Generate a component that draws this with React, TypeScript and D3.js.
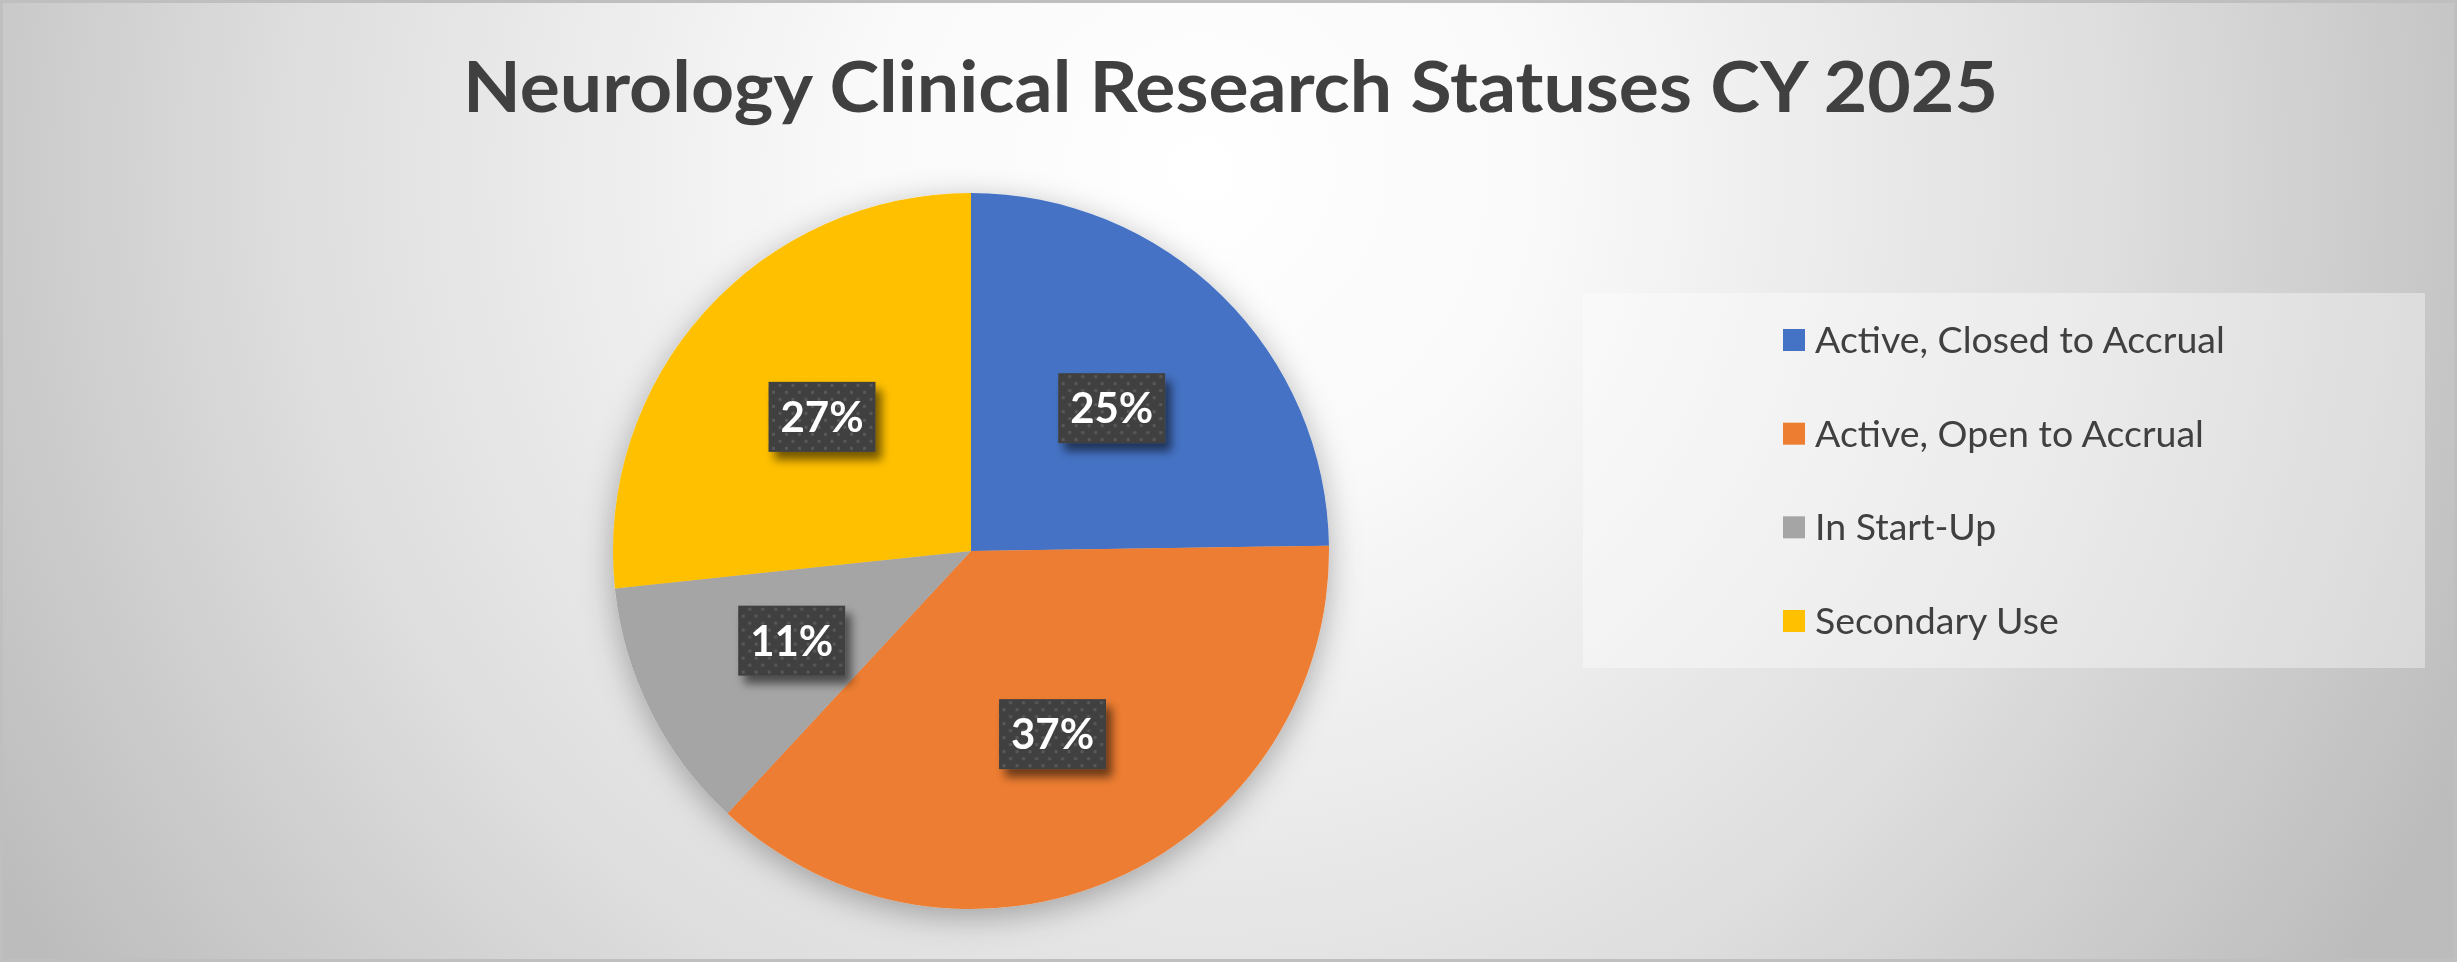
import React, { useEffect, useRef } from 'react';
import * as d3 from 'd3';

// Neurology study counts by status (CY 2025)
const statusNames = [
  'Active, Closed to Accrual',
  'Active, Open to Accrual',
  'In Start-Up',
  'Secondary Use',
];
const studyCounts = [26, 39, 12, 28];
const sliceColors = ['#4472C4', '#ED7D31', '#A5A5A5', '#FFC000'];
const chartTitle = 'Neurology Clinical Research Statuses CY 2025';

const WIDTH = 2457;
const HEIGHT = 962;

const App: React.FC = () => {
  const svgRef = useRef<SVGSVGElement>(null);

  useEffect(() => {
    if (!svgRef.current) return;
    const svg = d3.select(svgRef.current);
    svg.selectAll('*').remove();
    svg.attr('width', WIDTH).attr('height', HEIGHT);

    const defs = svg.append('defs');

    // background radial gradient
    const bg = defs
      .append('radialGradient')
      .attr('id', 'bgGrad')
      .attr('gradientUnits', 'userSpaceOnUse')
      .attr('cx', 1200)
      .attr('cy', 170)
      .attr('r', 1400);
    bg.append('stop').attr('offset', '0').attr('stop-color', '#ffffff');
    bg.append('stop').attr('offset', '0.25').attr('stop-color', '#f9f9f9');
    bg.append('stop').attr('offset', '0.65').attr('stop-color', '#dedede');
    bg.append('stop').attr('offset', '1').attr('stop-color', '#bcbcbc');

    // soft shadow under the pie
    const pieShadow = defs
      .append('filter')
      .attr('id', 'pieShadow')
      .attr('x', '-30%')
      .attr('y', '-30%')
      .attr('width', '160%')
      .attr('height', '160%');
    pieShadow
      .append('feDropShadow')
      .attr('dx', 0)
      .attr('dy', 8)
      .attr('stdDeviation', 16)
      .attr('flood-color', '#000')
      .attr('flood-opacity', 0.3);

    // label box shadow
    const boxShadow = defs
      .append('filter')
      .attr('id', 'boxShadow')
      .attr('x', '-30%')
      .attr('y', '-30%')
      .attr('width', '160%')
      .attr('height', '160%');
    boxShadow
      .append('feDropShadow')
      .attr('dx', 6)
      .attr('dy', 8)
      .attr('stdDeviation', 5)
      .attr('flood-color', '#000')
      .attr('flood-opacity', 0.55);

    // dotted fill for the label boxes
    const dots = defs
      .append('pattern')
      .attr('id', 'dots')
      .attr('patternUnits', 'userSpaceOnUse')
      .attr('width', 13)
      .attr('height', 14);
    dots.append('rect').attr('width', 13).attr('height', 14).attr('fill', '#404040');
    dots.append('rect').attr('x', 2).attr('y', 2).attr('width', 3).attr('height', 3).attr('fill', '#585858');
    dots.append('rect').attr('x', 8.5).attr('y', 9).attr('width', 3).attr('height', 3).attr('fill', '#585858');

    // background + border
    svg
      .append('rect')
      .attr('x', 1.5)
      .attr('y', 1.5)
      .attr('width', WIDTH - 3)
      .attr('height', HEIGHT - 3)
      .attr('fill', 'url(#bgGrad)')
      .attr('stroke', '#bfbfbf')
      .attr('stroke-width', 3);

    // title
    svg
      .append('text')
      .attr('x', 463)
      .attr('y', 112)
      .attr('textLength', 1535)
      .attr('lengthAdjust', 'spacingAndGlyphs')
      .style('font-family', 'Lato, "Open Sans", sans-serif')
      .style('font-weight', 700)
      .style('font-size', '70px')
      .style('fill', '#404040')
      .text(chartTitle);

    // pie
    const cx = 971;
    const cy = 551;
    const radius = 358;
    const total = d3.sum(studyCounts);
    const pct = d3.format('.0%');

    const pie = d3
      .pie<number>()
      .sort(null)
      .value(d => d);
    const slices = pie(studyCounts);

    const arc = d3.arc<d3.PieArcDatum<number>>().innerRadius(0).outerRadius(radius);
    const labelArc = d3
      .arc<d3.PieArcDatum<number>>()
      .innerRadius(radius * 0.56)
      .outerRadius(radius * 0.56);

    const g = svg.append('g').attr('transform', `translate(${cx},${cy})`);

    g.append('g')
      .attr('filter', 'url(#pieShadow)')
      .selectAll('path')
      .data(slices)
      .enter()
      .append('path')
      .attr('d', arc)
      .attr('fill', (d, i) => sliceColors[i]);

    const boxW = 107;
    const boxH = 70;
    const labels = g
      .selectAll('g.lbl')
      .data(slices)
      .enter()
      .append('g')
      .attr('class', 'lbl')
      .attr('transform', d => {
        const [x, y] = labelArc.centroid(d);
        return `translate(${x},${y})`;
      });

    labels
      .append('rect')
      .attr('x', -boxW / 2)
      .attr('y', -boxH / 2)
      .attr('width', boxW)
      .attr('height', boxH)
      .attr('fill', 'url(#dots)')
      .attr('filter', 'url(#boxShadow)');

    labels
      .append('text')
      .attr('text-anchor', 'middle')
      .attr('y', 15)
      .style('font-family', 'Lato, "Open Sans", sans-serif')
      .style('font-weight', 700)
      .style('font-size', '42px')
      .style('fill', '#ffffff')
      .text(d => pct(d.data / total));

    // legend
    svg
      .append('rect')
      .attr('x', 1583)
      .attr('y', 293)
      .attr('width', 842)
      .attr('height', 375)
      .attr('fill', '#ffffff')
      .attr('fill-opacity', 0.38);

    const legendY = d3.scalePoint<string>().domain(statusNames).range([340, 621]);

    const items = svg
      .selectAll('g.legend')
      .data(statusNames)
      .enter()
      .append('g')
      .attr('class', 'legend')
      .attr('transform', d => `translate(1783,${legendY(d)})`);

    items
      .append('rect')
      .attr('x', 0)
      .attr('y', -11)
      .attr('width', 22)
      .attr('height', 22)
      .attr('fill', (d, i) => sliceColors[i]);

    items
      .append('text')
      .attr('x', 32)
      .attr('y', 13)
      .style('font-family', 'Lato, "Open Sans", sans-serif')
      .style('font-size', '37.5px')
      .style('fill', '#404040')
      .text(d => d);
  }, []);

  return (
    <div style={{ position: 'fixed', left: 0, top: 0, width: WIDTH, height: HEIGHT, overflow: 'hidden' }}>
      <svg ref={svgRef} style={{ display: 'block' }}></svg>
    </div>
  );
};

export default App;
